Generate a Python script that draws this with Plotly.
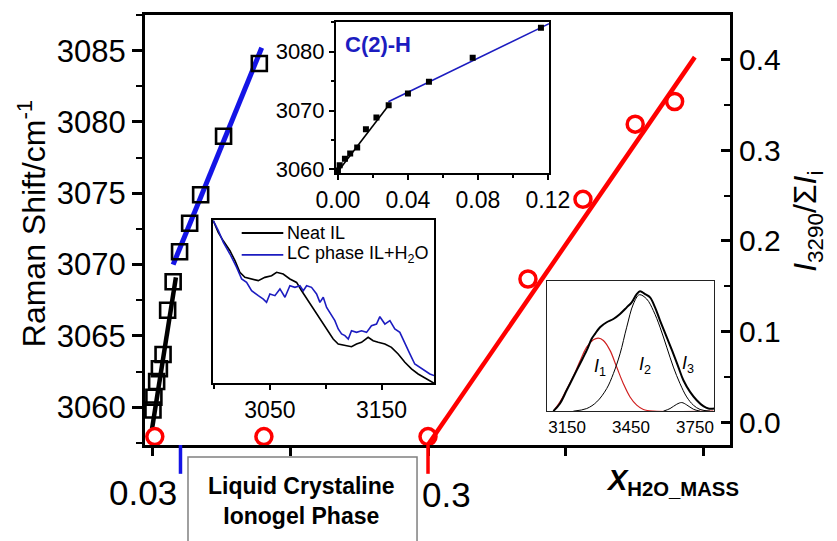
import plotly.graph_objects as go

# ---- main panel: C(2)-H Raman shift vs water mass fraction (left axis) ----
water_frac = [0.000, 0.001, 0.004, 0.007, 0.011, 0.016, 0.022, 0.029, 0.040, 0.052, 0.077, 0.116]
raman_shift = [3059.8, 3060.7, 3061.8, 3062.7, 3063.7, 3066.8, 3068.8, 3070.9, 3072.9, 3074.9, 3079.0, 3084.1]

# linear fits drawn over the two regimes (main panel)
fit_low_x = [-0.001, 0.025]
fit_low_y = [3058.5, 3069.1]
fit_high_x = [0.022, 0.1186]
fit_high_y = [3070.0, 3085.2]

# ---- main panel: I3290 / sum(I) ratio (right axis) ----
ratio_x = [0.002, 0.121, 0.300, 0.409, 0.469, 0.526, 0.569]
ratio_y = [-0.016, -0.016, -0.016, 0.158, 0.246, 0.329, 0.354]
ratio_fit_x = [0.300, 0.591]
ratio_fit_y = [-0.025, 0.403]

# phase boundaries marked under the x axis
boundary_x = [0.03, 0.3]
boundary_labels = ["0.03", "0.3"]
boundary_colors = ["#1414e6", "#ff0000"]

main_xticks = [0.0, 0.15, 0.30, 0.45, 0.60]

# ---- inset: C(2)-H shift, two regimes ----
inset_fit_low_x = [0.0, 0.029]
inset_fit_low_y = [3059.6, 3070.9]
inset_fit_high_x = [0.0288, 0.1207]
inset_fit_high_y = [3071.5, 3084.8]

# ---- inset: C-H stretching spectra ----
neat_x = [2999.3, 3003.7, 3008.2, 3014.2, 3018.7, 3023.1, 3027.6, 3033.6, 3039.6, 3045.5,
          3051.5, 3056.0, 3061.9, 3067.9, 3073.9, 3078.4, 3084.3, 3090.3, 3096.3, 3102.2,
          3106.7, 3111.2, 3117.1, 3123.1, 3127.6, 3132.1, 3138.0, 3142.5, 3147.0, 3153.0,
          3158.9, 3164.9, 3170.9, 3176.8, 3182.8, 3188.8, 3197.1]
neat_y = [0.996, 0.924, 0.873, 0.812, 0.751, 0.680, 0.649, 0.639, 0.629, 0.649,
          0.659, 0.680, 0.669, 0.639, 0.618, 0.567, 0.506, 0.445, 0.384, 0.322,
          0.271, 0.241, 0.231, 0.224, 0.241, 0.251, 0.282, 0.261, 0.251, 0.241,
          0.220, 0.180, 0.129, 0.088, 0.057, 0.033, 0.000]
lc_x = [2999.3, 3003.8, 3008.3, 3014.2, 3020.2, 3024.7, 3029.1, 3033.6, 3039.6, 3044.1,
        3047.0, 3050.0, 3054.5, 3059.0, 3063.5, 3067.9, 3072.4, 3076.9, 3079.9, 3082.9,
        3087.3, 3091.8, 3094.8, 3097.8, 3100.8, 3103.7, 3108.2, 3111.2, 3114.2, 3117.2,
        3120.2, 3123.1, 3127.6, 3132.1, 3136.6, 3141.0, 3145.5, 3148.5, 3153.0, 3157.5,
        3161.9, 3166.4, 3170.9, 3175.4, 3179.8, 3184.3, 3188.8, 3193.3, 3197.1]
lc_y = [0.996, 0.935, 0.863, 0.792, 0.710, 0.639, 0.618, 0.567, 0.537, 0.516,
        0.496, 0.547, 0.537, 0.578, 0.527, 0.598, 0.588, 0.598, 0.567, 0.598,
        0.588, 0.547, 0.496, 0.527, 0.465, 0.435, 0.384, 0.333, 0.302, 0.292,
        0.271, 0.322, 0.312, 0.322, 0.312, 0.353, 0.363, 0.408, 0.363, 0.384,
        0.333, 0.312, 0.241, 0.180, 0.118, 0.098, 0.078, 0.057, 0.047]
spectra_names = ["Neat IL", "LC phase IL+H<sub>2</sub>O"]

# ---- inset: O-H band and its three components ----
oh_x = [3085.4, 3116.7, 3148.0, 3179.3, 3210.6, 3241.9, 3265.4, 3281.0, 3304.5, 3335.8,
        3367.1, 3398.4, 3429.7, 3453.2, 3476.7, 3492.3, 3515.8, 3539.3, 3562.7, 3586.2,
        3617.5, 3648.8, 3672.3, 3695.8, 3727.1, 3758.4, 3789.7, 3813.1, 3841.3]
oh_y = [0.000, 0.059, 0.160, 0.262, 0.364, 0.466, 0.555, 0.593, 0.644, 0.682,
        0.707, 0.746, 0.796, 0.835, 0.898, 0.919, 0.898, 0.873, 0.796, 0.695,
        0.567, 0.440, 0.338, 0.237, 0.148, 0.084, 0.038, 0.020, 0.020]
i1_x = [3085.4, 3116.7, 3148.0, 3179.3, 3210.6, 3241.9, 3273.2, 3296.7, 3320.2, 3351.4,
        3382.7, 3414.1, 3445.4, 3476.7, 3508.0, 3554.9, 3836.6]
i1_y = [0.000, 0.071, 0.168, 0.267, 0.384, 0.491, 0.547, 0.560, 0.542, 0.466,
        0.338, 0.211, 0.109, 0.046, 0.013, 0.000, 0.000]
i2_x = [3179.3, 3241.9, 3288.9, 3335.8, 3367.1, 3398.4, 3429.7, 3461.0, 3489.2, 3523.6,
        3554.9, 3586.2, 3617.5, 3648.8, 3680.1, 3711.4, 3742.7, 3774.0, 3820.9]
i2_y = [0.000, 0.020, 0.071, 0.173, 0.288, 0.440, 0.644, 0.822, 0.893, 0.860,
        0.771, 0.644, 0.491, 0.338, 0.211, 0.109, 0.046, 0.013, 0.000]
i3_x = [3601.9, 3633.2, 3664.5, 3688.0, 3711.4, 3742.7, 3774.0]
i3_y = [0.000, 0.020, 0.053, 0.066, 0.048, 0.015, 0.000]
band_labels = ["<i>I</i><sub>1</sub>", "<i>I</i><sub>2</sub>", "<i>I</i><sub>3</sub>"]
band_label_x = [3304.5, 3515.7, 3719.0]
band_label_y = [0.338, 0.351, 0.359]

FONT = "Arial, 'Liberation Sans', sans-serif"
BLUE = "#1414e6"
INSET_BLUE = "#1c1cc0"
RED = "#ff0000"

fig = go.Figure()

# main panel traces
fig.add_trace(go.Scatter(x=fit_low_x, y=fit_low_y, mode="lines",
                         line=dict(color="black", width=4.5), showlegend=False))
fig.add_trace(go.Scatter(x=fit_high_x, y=fit_high_y, mode="lines",
                         line=dict(color=BLUE, width=5), showlegend=False))
fig.add_trace(go.Scatter(x=water_frac, y=raman_shift, mode="markers",
                         marker=dict(symbol="square-open", size=15, color="black",
                                     line=dict(width=2.6, color="black")),
                         showlegend=False))
fig.add_trace(go.Scatter(x=ratio_fit_x, y=ratio_fit_y, mode="lines", yaxis="y2",
                         line=dict(color=RED, width=4.5), showlegend=False))
fig.add_trace(go.Scatter(x=ratio_x, y=ratio_y, mode="markers", yaxis="y2",
                         marker=dict(symbol="circle-open", size=16, color=RED,
                                     line=dict(width=3.5, color=RED)),
                         cliponaxis=False, showlegend=False))

# inset 1: C(2)-H
fig.add_trace(go.Scatter(x=inset_fit_low_x, y=inset_fit_low_y, mode="lines",
                         xaxis="x2", yaxis="y3", line=dict(color="black", width=1.6),
                         showlegend=False))
fig.add_trace(go.Scatter(x=inset_fit_high_x, y=inset_fit_high_y, mode="lines",
                         xaxis="x2", yaxis="y3", line=dict(color=INSET_BLUE, width=1.6),
                         showlegend=False))
fig.add_trace(go.Scatter(x=water_frac, y=raman_shift, mode="markers",
                         xaxis="x2", yaxis="y3",
                         marker=dict(symbol="square", size=6, color="black"),
                         showlegend=False))

# inset 2: spectra
fig.add_trace(go.Scatter(x=neat_x, y=neat_y, mode="lines", xaxis="x3", yaxis="y4",
                         name=spectra_names[0], line=dict(color="black", width=1.6),
                         showlegend=False))
fig.add_trace(go.Scatter(x=lc_x, y=lc_y, mode="lines", xaxis="x3", yaxis="y4",
                         name=spectra_names[1], line=dict(color=INSET_BLUE, width=1.6),
                         showlegend=False))

# inset 3: O-H band deconvolution
fig.add_trace(go.Scatter(x=i1_x, y=i1_y, mode="lines", xaxis="x4", yaxis="y5",
                         line=dict(color="#d02020", width=1.2, shape="spline"),
                         showlegend=False))
fig.add_trace(go.Scatter(x=i2_x, y=i2_y, mode="lines", xaxis="x4", yaxis="y5",
                         line=dict(color="black", width=1.0, shape="spline"),
                         showlegend=False))
fig.add_trace(go.Scatter(x=i3_x, y=i3_y, mode="lines", xaxis="x4", yaxis="y5",
                         line=dict(color="black", width=1.0, shape="spline"),
                         showlegend=False))
fig.add_trace(go.Scatter(x=oh_x, y=oh_y, mode="lines", xaxis="x4", yaxis="y5",
                         line=dict(color="black", width=2.0, shape="spline"),
                         showlegend=False))

axis_common = dict(showgrid=False, zeroline=False, color="black")

fig.update_layout(
    width=837, height=541,
    margin=dict(l=145, r=107, t=13, b=96),
    paper_bgcolor="white", plot_bgcolor="white",
    font=dict(family=FONT, color="black"),
    showlegend=False,
    xaxis=dict(**axis_common, domain=[0, 1], anchor="y",
               range=[-0.0087, 0.6294], showline=True, linewidth=3, linecolor="black",
               mirror=True, ticks="outside", tickvals=main_xticks, ticklen=8,
               tickwidth=2.5, showticklabels=False),
    yaxis=dict(**axis_common, range=[3057.35, 3087.5],
               tickvals=[3060, 3065, 3070, 3075, 3080, 3085],
               ticks="outside", ticklen=10, tickwidth=2.5,
               minor=dict(ticks="outside", ticklen=6, tickwidth=2, dtick=2.5, tick0=3057.5),
               showline=True, linewidth=3, linecolor="black",
               tickfont=dict(size=31)),
    yaxis2=dict(**axis_common, overlaying="y", side="right", anchor="x",
                range=[-0.0253, 0.4495], tickvals=[0.0, 0.1, 0.2, 0.3, 0.4],
                tickformat=".1f", ticks="inside", ticklen=9, tickwidth=2.5,
                minor=dict(ticks="inside", ticklen=6, tickwidth=2, dtick=0.05, tick0=0),
                showline=True, linewidth=3, linecolor="black",
                tickfont=dict(size=30)),
    # inset 1
    xaxis2=dict(**axis_common, domain=[0.3265, 0.6906], anchor="y3",
                range=[-0.0011, 0.1206], tickvals=[0.0, 0.04, 0.08, 0.12],
                tickformat=".2f", ticks="outside", ticklen=5, tickwidth=1.5,
                minor=dict(ticks="outside", ticklen=3, dtick=0.02, tick0=0),
                showline=True, linewidth=2, linecolor="black", mirror=True,
                tickfont=dict(size=23)),
    yaxis3=dict(**axis_common, domain=[0.632, 0.9838], anchor="x2",
                range=[3059.32, 3085.08], tickvals=[3060, 3070, 3080],
                ticks="outside", ticklen=5, tickwidth=1.5,
                minor=dict(ticks="outside", ticklen=3, dtick=5, tick0=3060),
                showline=True, linewidth=2, linecolor="black", mirror=True,
                tickfont=dict(size=22)),
    # inset 2
    xaxis3=dict(**axis_common, domain=[0.1162, 0.494], anchor="y4",
                range=[2999, 3197], tickvals=[3050, 3150],
                ticks="outside", ticklen=5, tickwidth=1.5,
                minor=dict(ticks="outside", ticklen=4, dtick=50, tick0=3000),
                showline=True, linewidth=2, linecolor="black", mirror=True,
                tickfont=dict(size=23)),
    yaxis4=dict(**axis_common, domain=[0.1435, 0.5231], anchor="x3",
                range=[0, 1], showticklabels=False, ticks="",
                showline=True, linewidth=2, linecolor="black", mirror=True),
    # inset 3
    xaxis4=dict(**axis_common, domain=[0.6877, 0.9732], anchor="y5",
                range=[3057, 3841], tickvals=[3150, 3450, 3750],
                ticks="", showline=True, linewidth=1.3, linecolor="#222222",
                mirror=True, tickfont=dict(size=17)),
    yaxis5=dict(**axis_common, domain=[0.0787, 0.3819], anchor="x4",
                range=[0, 1], showticklabels=False, ticks="",
                showline=True, linewidth=1.3, linecolor="#222222", mirror=True),
)

shapes = []
# phase boundary marks below the x axis
for bx, bc in zip(boundary_x, boundary_colors):
    shapes.append(dict(type="line", xref="x", yref="paper", x0=bx, x1=bx,
                       y0=0, y1=-0.067, line=dict(color=bc, width=3.5)))
# phase box
shapes.append(dict(type="rect", xref="paper", yref="paper", x0=0.0735, x1=0.465,
                   y0=-0.0278, y1=-0.35, line=dict(color="#808080", width=1.5),
                   fillcolor="rgba(0,0,0,0)"))
# key swatches for the spectra inset
key_y = [0.4930, 0.4420]
key_colors = ["black", INSET_BLUE]
for ky, kc in zip(key_y, key_colors):
    shapes.append(dict(type="line", xref="paper", yref="paper", x0=0.1653, x1=0.2364,
                       y0=ky, y1=ky, line=dict(color=kc, width=1.8)))
fig.update_layout(shapes=shapes)

annotations = [
    dict(text=boundary_labels[0], x=boundary_x[0], xref="x", xanchor="right", xshift=-1,
         y=-0.111, yref="paper", yanchor="middle", showarrow=False,
         font=dict(size=35, family=FONT)),
    dict(text=boundary_labels[1], x=boundary_x[1], xref="x", xanchor="left", xshift=-8,
         y=-0.116, yref="paper", yanchor="middle", showarrow=False,
         font=dict(size=35, family=FONT)),
    dict(text="<b>Liquid Crystaline<br>Ionogel Phase</b>", x=0.268, xref="paper",
         y=-0.131, yref="paper", xanchor="center", yanchor="middle", showarrow=False,
         font=dict(size=23, family=FONT)),
    dict(text="<b><i>X</i></b><sub><b>H2O_MASS</b></sub>", x=0.784, xref="paper",
         y=-0.085, yref="paper", xanchor="left", yanchor="middle", showarrow=False,
         font=dict(size=29, family=FONT)),
    dict(text="Raman Shift/cm<sup>-1</sup>", x=-0.193, xref="paper", y=0.516,
         yref="paper", textangle=-90, xanchor="center", yanchor="middle",
         showarrow=False, font=dict(size=32, family=FONT)),
    dict(text="<i>I</i><sub>3290</sub>/Σ<i>I</i><sub>i</sub>", x=1.133, xref="paper",
         y=0.521, yref="paper", textangle=-90, xanchor="center", yanchor="middle",
         showarrow=False, font=dict(size=32, family=FONT)),
    dict(text="<b>C(2)-H</b>", x=0.398, xref="paper", y=0.932, yref="paper",
         xanchor="center", yanchor="middle", showarrow=False,
         font=dict(size=22, family=FONT, color=INSET_BLUE)),
]
for name, ky in zip(spectra_names, key_y):
    annotations.append(dict(text=name, x=0.2393, xref="paper", y=ky, yref="paper",
                            xanchor="left", yanchor="middle", showarrow=False,
                            font=dict(size=18, family=FONT)))
for lbl, lx, ly in zip(band_labels, band_label_x, band_label_y):
    annotations.append(dict(text=lbl, x=lx, y=ly, xref="x4", yref="y5",
                            showarrow=False, font=dict(size=18, family=FONT)))
fig.update_layout(annotations=annotations)

fig.write_html("out.html")
